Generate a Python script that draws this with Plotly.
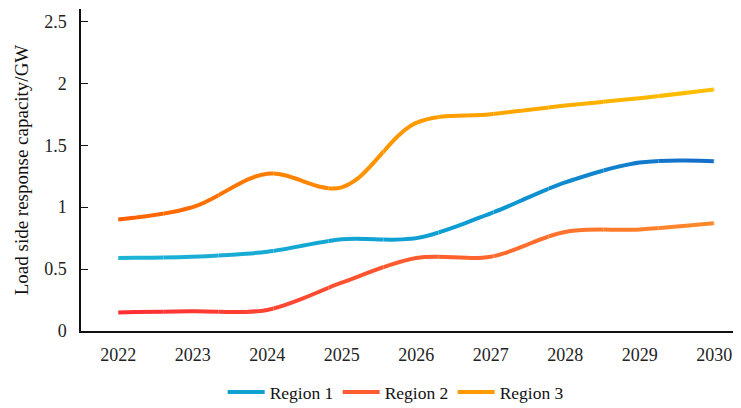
import plotly.graph_objects as go

years = [2022, 2023, 2024, 2025, 2026, 2027, 2028, 2029, 2030]
region1 = [0.59, 0.60, 0.64, 0.74, 0.75, 0.95, 1.20, 1.36, 1.37]
region2 = [0.15, 0.16, 0.17, 0.39, 0.59, 0.60, 0.80, 0.82, 0.87]
region3 = [0.90, 1.00, 1.27, 1.16, 1.68, 1.75, 1.82, 1.88, 1.95]
names = ["Region 1", "Region 2", "Region 3"]
y_ticks = [0, 0.5, 1, 1.5, 2, 2.5]

# gradient stops (position, colour) per series
grads = [[(0.0, (30, 180, 214)), (0.6, (12, 156, 210)), (1.0, (22, 108, 200))],
         [(0.0, (255, 45, 52)), (1.0, (255, 138, 42))],
         [(0.0, (255, 95, 0)), (0.45, (255, 150, 0)), (1.0, (255, 192, 0))]]


def grad_color(stops, t):
    for (p0, c0), (p1, c1) in zip(stops[:-1], stops[1:]):
        if t <= p1:
            f = (t - p0) / (p1 - p0)
            return tuple(round(a + (b - a) * f) for a, b in zip(c0, c1))
    return stops[-1][1]


N = 24
x0, x1 = 2021.5, 2030.36
font = "Liberation Serif"

fig = go.Figure()
layout = dict(
    width=733, height=400,
    margin=dict(l=73, r=0, t=1, b=77, autoexpand=False),
    paper_bgcolor="white", plot_bgcolor="rgba(0,0,0,0)",
    font=dict(family=font, size=18, color="#222"),
    xaxis=dict(range=[x0, x1], domain=[0, 1], tickvals=years, automargin=False,
               ticktext=[str(y) for y in years], showgrid=False, zeroline=False,
               showline=True, linecolor="#111", linewidth=1.5, ticks="",
               ticklabelstandoff=7, tickfont=dict(family=font, size=18, color="#222")),
    yaxis=dict(range=[0, 2.6], tickvals=y_ticks, ticktext=[f"{v:g}" for v in y_ticks],
               showgrid=False, zeroline=False, showline=True, linecolor="#111",
               linewidth=1.5, ticks="inside", ticklen=7, tickcolor="#111",
               automargin=False, ticklabelstandoff=9,
               tickfont=dict(family=font, size=18, color="#222"),
               title=dict(text="Load side response capacity/GW",
                          font=dict(family=font, size=19, color="#111"), standoff=11)),
    legend=dict(orientation="h", x=0.476, xanchor="center", y=0.04, yref="container",
                yanchor="middle", font=dict(family=font, size=17.5, color="#111"),
                tracegroupgap=0, itemwidth=37, entrywidth=63, entrywidthmode="pixels"),
    showlegend=True,
)

# invisible carrier trace so the main axis pair is drawn
fig.add_trace(go.Scatter(x=years, y=region1, mode="lines", line=dict(width=0),
                         showlegend=False, hoverinfo="skip", opacity=0))

series = [region1, region2, region3]
for i in range(N):
    ax = f"xaxis{i + 2}"
    lo = x0 + (x1 - x0) * i / N
    hi = x0 + (x1 - x0) * (i + 1) / N
    layout[ax] = dict(range=[lo, hi], domain=[i / N, (i + 1) / N], anchor="y",
                      visible=False, showgrid=False, zeroline=False)
    xm = (lo + hi) / 2
    t = min(max((xm - years[0]) / (years[-1] - years[0]), 0.0), 1.0)
    for vals, name, stops in zip(series, names, grads):
        col = grad_color(stops, t)
        fig.add_trace(go.Scatter(
            x=years, y=vals, mode="lines", name=name, legendgroup=name,
            showlegend=(i == N // 2), xaxis=f"x{i + 2}", yaxis="y",
            line=dict(color=f"rgb{col}", width=4, shape="spline", smoothing=1.0),
            hoverinfo="skip"))

fig.update_layout(**layout)
fig.write_html("out.html")
